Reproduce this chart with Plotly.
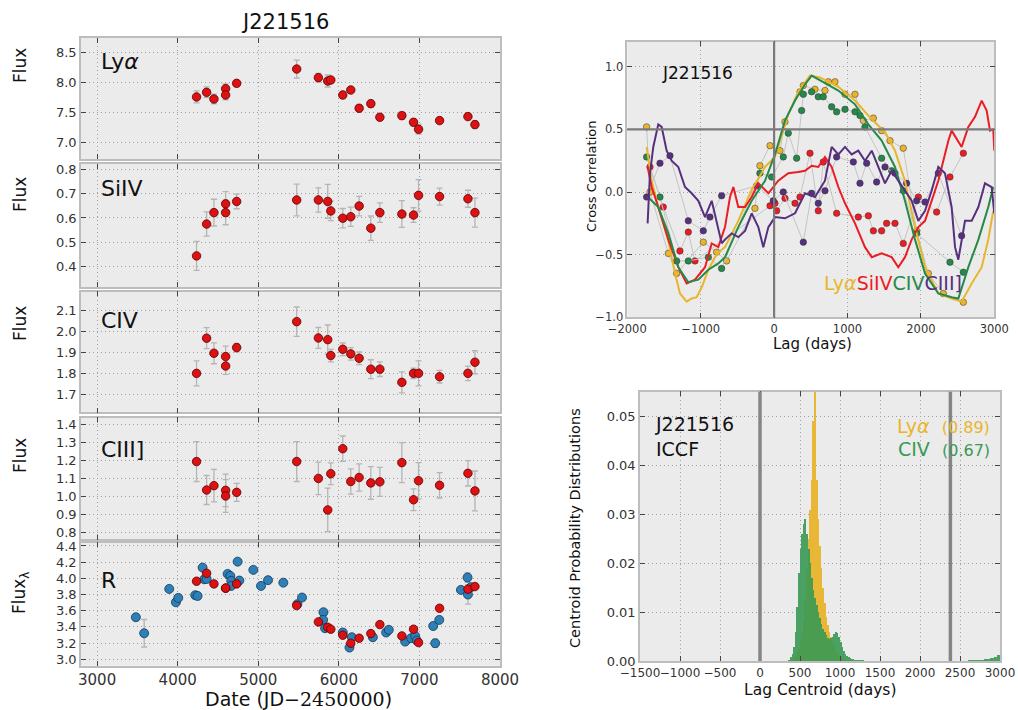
import plotly.graph_objects as go

# ---------------- Light curves (left) ----------------
spec_dates = [4234, 4359, 4450, 4595, 4595, 4732, 5477, 5746, 5862, 5900, 6049,
              6148, 6252, 6397, 6509, 6782, 6927, 6989, 7250, 7602, 7689]
lya_flux = [7.756, 7.833, 7.722, 7.894, 7.789, 7.983, 8.222, 8.078, 8.022, 8.039, 7.789,
            7.872, 7.567, 7.644, 7.417, 7.444, 7.333, 7.217, 7.361, 7.428, 7.294]
lya_err = [0.10, 0.09, 0.08, 0.08, 0.08, 0.05, 0.15, 0.07, 0.10, 0.05, 0.06,
           0.04, 0.06, 0.06, 0.05, 0.06, 0.06, 0.08, 0.04, 0.05, 0.06]
siiv_flux = [0.444, 0.575, 0.622, 0.658, 0.622, 0.668, 0.674, 0.674, 0.668, 0.629, 0.599,
             0.605, 0.649, 0.558, 0.622, 0.616, 0.612, 0.693, 0.688, 0.679, 0.622]
siiv_err = [0.06, 0.05, 0.055, 0.05, 0.05, 0.03, 0.065, 0.05, 0.07, 0.04, 0.04,
            0.04, 0.04, 0.05, 0.04, 0.055, 0.03, 0.065, 0.035, 0.035, 0.06]
civ_flux = [1.800, 1.968, 1.896, 1.880, 1.835, 1.923, 2.047, 1.969, 1.961, 1.885, 1.915,
            1.893, 1.872, 1.820, 1.820, 1.757, 1.800, 1.800, 1.784, 1.800, 1.853]
civ_err = [0.06, 0.05, 0.05, 0.05, 0.04, 0.02, 0.07, 0.05, 0.07, 0.03, 0.03,
           0.03, 0.03, 0.045, 0.035, 0.05, 0.025, 0.06, 0.03, 0.035, 0.055]
ciii_flux = [1.193, 1.036, 1.060, 1.034, 1.003, 1.023, 1.193, 1.100, 0.926, 1.126, 1.264,
             1.083, 1.105, 1.075, 1.081, 1.187, 0.982, 1.087, 1.062, 1.128, 1.031]
ciii_err = [0.11, 0.08, 0.09, 0.09, 0.09, 0.05, 0.11, 0.09, 0.12, 0.06, 0.07,
            0.07, 0.075, 0.09, 0.08, 0.11, 0.06, 0.10, 0.07, 0.07, 0.11]
cont_flux = [3.964, 4.062, 3.931, 3.877, 3.880, 3.931, 3.663, 3.461, 3.395, 3.371, 3.297,
             3.198, 3.260, 3.317, 3.428, 3.288, 3.371, 3.206, 3.630, 3.865, 3.898]

phot_dates = [3481, 3584, 3895, 3978, 4007, 4218, 4247, 4309, 4330, 4359, 4620, 4653, 4665,
              4665, 4744, 4765, 4939, 5034, 5121, 5311, 5485, 5543, 5809, 5805, 5829, 6049,
              6132, 6161, 6422, 6587, 6620, 6823, 6897, 6947, 6968, 7171, 7196, 7246, 7515,
              7597, 7602, 7640]
phot_flux = [3.519, 3.321, 3.869, 3.704, 3.758, 3.791, 3.782, 4.132, 3.988, 3.992, 4.054,
             4.029, 3.968, 3.906, 4.206, 3.972, 4.104, 3.906, 3.977, 3.946, 3.680, 3.762,
             3.581, 3.486, 3.383, 3.330, 3.144, 3.272, 3.272, 3.330, 3.363, 3.218, 3.260,
             3.288, 3.231, 3.410, 3.198, 3.486, 3.857, 4.010, 3.800, 3.890]
phot_err = [0.03, 0.17, 0.03, 0.03, 0.03, 0.02, 0.02, 0.03, 0.03, 0.03, 0.03, 0.03, 0.03,
            0.03, 0.03, 0.03, 0.03, 0.03, 0.03, 0.03, 0.03, 0.03, 0.03, 0.03, 0.03, 0.03,
            0.03, 0.03, 0.03, 0.03, 0.03, 0.03, 0.03, 0.03, 0.03, 0.03, 0.05, 0.03, 0.03,
            0.06, 0.12, 0.03]

date_ticks = [3000, 4000, 5000, 6000, 7000, 8000]

# ---------------- Cross correlation (top right) ----------------
lya_ccf_lag = [-1736, -1668, -1578, -1441, -1350, -1282, -1191, -1123, -1055, -986, -896, -805,
               -714, -669, -488, -305, -200, -124, 12, 103, 193, 330, 466, 488, 625, 875, 1102,
               1330, 1511, 1647, 1783, 1920, 2056, 2237, 2419, 2555, 2692, 2828, 2918, 2986]
lya_ccf = [0.36, 0.09, -0.12, -0.39, -0.65, -0.81, -0.875, -0.85, -0.84, -0.76, -0.62, -0.52,
           -0.46, -0.44, -0.23, 0.02, 0.12, 0.20, 0.28, 0.45, 0.62, 0.80, 0.92, 0.93, 0.915,
           0.84, 0.73, 0.58, 0.48, 0.33, 0.09, -0.28, -0.60, -0.81, -0.85, -0.875, -0.73, -0.60,
           -0.38, -0.15]
civ_ccf_lag = [-1720, -1578, -1441, -1305, -1169, -1032, -896, -760, -669, -488, -305, -124, 12,
               148, 285, 421, 512, 557, 693, 875, 1102, 1284, 1465, 1647, 1783, 1920, 2056,
               2237, 2419, 2510, 2646, 2783, 2918, 2986]
civ_ccf = [-0.04, -0.12, -0.33, -0.60, -0.72, -0.70, -0.62, -0.57, -0.52, -0.28, -0.07, 0.09,
           0.30, 0.57, 0.73, 0.86, 0.93, 0.915, 0.875, 0.81, 0.70, 0.54, 0.41, 0.20, -0.07,
           -0.38, -0.65, -0.81, -0.84, -0.85, -0.60, -0.38, -0.12, 0.04]
siiv_ccf_lag = [-1723, -1668, -1578, -1441, -1305, -1191, -1078, -941, -850, -760, -669, -601,
                -555, -488, -396, -305, -215, -78, 57, 193, 330, 421, 512, 602, 693, 784, 875,
                966, 1102, 1238, 1330, 1465, 1602, 1692, 1783, 1874, 1965, 2056, 2237, 2374,
                2419, 2555, 2646, 2737, 2828, 2896, 2941, 2986, 3000]
siiv_ccf = [0.20, 0.04, -0.12, -0.38, -0.60, -0.73, -0.70, -0.60, -0.41, -0.44, -0.28, -0.04,
            0.04, -0.12, -0.12, -0.04, 0.07, -0.01, 0.09, 0.15, 0.16, 0.17, 0.21, 0.20, 0.28,
            0.20, 0.04, -0.09, -0.25, -0.44, -0.52, -0.49, -0.52, -0.60, -0.52, -0.38, -0.28,
            -0.23, 0.09, 0.41, 0.49, 0.36, 0.52, 0.60, 0.73, 0.65, 0.49, 0.50, 0.33]
ciii_ccf_lag = [-1723, -1691, -1646, -1578, -1532, -1464, -1396, -1305, -1214, -1123, -1032,
                -941, -850, -760, -714, -669, -578, -488, -396, -305, -215, -147, -78, 12, 148,
                285, 421, 557, 693, 784, 875, 966, 1057, 1147, 1238, 1330, 1420, 1511, 1602,
                1692, 1783, 1874, 1965, 2056, 2146, 2237, 2328, 2419, 2465, 2510, 2601, 2692,
                2783, 2873, 2964, 3000]
ciii_ccf = [-0.25, 0.15, 0.36, 0.54, 0.52, 0.33, 0.25, 0.20, 0.04, -0.01, -0.07, -0.20, -0.07,
            -0.28, -0.41, -0.38, -0.33, -0.36, -0.31, -0.17, -0.28, -0.44, -0.28, -0.20, -0.21,
            -0.17, -0.01, -0.04, 0.09, 0.36, 0.30, 0.36, 0.30, 0.33, 0.25, 0.33, 0.20, 0.07,
            0.17, 0.09, 0.01, -0.07, -0.23, -0.15, 0.01, 0.20, 0.15, -0.12, -0.44, -0.54, -0.23,
            -0.23, -0.12, 0.07, 0.04, -0.17]

lya_dcf_lag = [-1737, -1691, -1441, -1328, -965, -783, -647, -261, -193, -56, 80, 148, 353,
               398, 557, 693, 739, 829, 966, 1102, 1216, 1352, 1465, 1579, 1760, 1942, 2101,
               2305, 2578]
lya_dcf = [0.52, 0.00, -0.49, -0.65, -0.40, -0.48, -0.55, -0.13, 0.21, 0.37, 0.33, 0.56, 0.80,
           0.85, 0.82, 0.81, 0.88, 0.88, 0.78, 0.78, 0.57, 0.59, 0.49, 0.41, 0.35, -0.31, -0.65,
           -0.81, -0.88]
civ_dcf_lag = [-1737, -1555, -1328, -1169, -896, -715, -193, -34, 125, 193, 307, 375, 398, 511,
               602, 670, 784, 852, 966, 1102, 1170, 1238, 1465, 1602, 1760, 1942, 2396, 2578]
civ_dcf = [0.28, -0.04, -0.55, -0.55, -0.52, -0.61, 0.15, 0.12, 0.28, 0.47, 0.27, 0.65, 0.78,
           0.80, 0.76, 0.76, 0.68, 0.64, 0.66, 0.64, 0.61, 0.52, 0.27, 0.17, 0.01, -0.33, -0.56,
           -0.64]
siiv_dcf_lag = [-1691, -1510, -1283, -1169, -1078, -56, 12, 35, 148, 285, 353, 489, 602, 670,
                852, 1147, 1284, 1352, 1465, 1533, 1647, 1760, 1965, 2214, 2396, 2578]
siiv_dcf = [0.20, -0.12, -0.47, -0.32, -0.55, -0.11, -0.09, -0.15, -0.05, -0.09, -0.04, 0.31,
            -0.15, 0.24, -0.17, -0.20, -0.19, -0.31, -0.31, -0.25, -0.25, -0.41, -0.04, -0.16,
            0.12, 0.31]
ciii_dcf_lag = [-1737, -1555, -1419, -1169, -965, -874, -715, -238, -11, 125, 398, 511, 602,
                693, 852, 1079, 1170, 1261, 1397, 1511, 1647, 1805, 1942, 2056, 2237, 2555]
ciii_dcf = [-0.04, 0.23, 0.29, -0.23, -0.31, -0.20, -0.03, 0.05, -0.07, 0.00, -0.40, -0.01,
            -0.09, 0.01, 0.28, 0.24, 0.07, 0.23, 0.08, 0.20, 0.15, 0.07, -0.07, -0.08, 0.15,
            -0.35]

# ---------------- Centroid distributions (bottom right) ----------------
cent_bins = [370, 390, 410, 430, 450, 470, 490, 510, 530, 550, 570, 590, 610, 630, 650, 670,
             690, 710, 730, 750, 770, 790, 810, 830, 850, 870, 890, 910, 930, 950, 970, 990,
             1010, 1030, 1050, 1070, 1090, 1110, 1130, 1150, 1170, 1190, 1210, 1230, 1250,
             1270, 1290]
lya_cent = [0.0, 0.0002, 0.0005, 0.0008, 0.0012, 0.0018, 0.0026, 0.0038, 0.0055, 0.0085,
            0.0125, 0.019, 0.025, 0.031, 0.037, 0.049, 0.060, 0.037, 0.029, 0.0235, 0.019,
            0.015, 0.012, 0.009, 0.0075, 0.006, 0.005, 0.004, 0.003, 0.0022, 0.0016, 0.0012,
            0.0009, 0.0006, 0.0004, 0.0003, 0.0002, 0.00015, 0.0001, 0.0, 0.0, 0.0, 0.0, 0.0,
            0.0, 0.0, 0.0]
civ_cent = [0.0003, 0.0008, 0.0015, 0.003, 0.006, 0.011, 0.018, 0.023, 0.026, 0.028, 0.029,
            0.026, 0.023, 0.020, 0.017, 0.0145, 0.013, 0.0115, 0.010, 0.0088, 0.0077, 0.0066,
            0.006, 0.0053, 0.0048, 0.0046, 0.0047, 0.005, 0.0055, 0.006, 0.0058, 0.005, 0.004,
            0.003, 0.0022, 0.0015, 0.001, 0.0008, 0.0006, 0.0005, 0.0004, 0.0003, 0.0003,
            0.0002, 0.0002, 0.0001, 0.0001]
tail_bins = [2620, 2660, 2700, 2740, 2780, 2820, 2860, 2900, 2940, 2980]
civ_tail = [0.0001, 0.0002, 0.0002, 0.0003, 0.0003, 0.0004, 0.0005, 0.0007, 0.0009, 0.0013]

# ---------------- Styling ----------------
FONT = "DejaVu Sans"
C_LYA = "#e8b52c"
C_SIIV = "#ec1c24"
C_CIV = "#25894a"
C_CIII = "#56307f"
C_RED = "#dd1111"
C_BLUE = "#2e7fb8"
C_HGREEN = "#3a9a55"
BG = "#ebebeb"
FRAME = "#bdbdbd"
GRID = "#a0a0a0"
W, H = 1018, 710


def px_x(p):
    return p / W


def px_y(p):
    return 1 - p / H


fig = go.Figure()

panels = [
    (lya_flux, lya_err, [6.72, 8.74], [7.0, 7.5, 8.0, 8.5], 38, 159),
    (siiv_flux, siiv_err, [0.316, 0.822], [0.4, 0.5, 0.6, 0.7, 0.8], 164, 287),
    (civ_flux, civ_err, [1.614, 2.19], [1.7, 1.8, 1.9, 2.0, 2.1], 291.7, 412.3),
    (ciii_flux, ciii_err, [0.764, 1.435], [0.8, 0.9, 1.0, 1.1, 1.2, 1.3, 1.4], 417.7, 539.3),
]

layout_axes = {}


def axis_common(**kw):
    d = dict(showgrid=True, gridcolor=GRID, griddash="1px,3px", gridwidth=1,
             showline=True, linecolor=FRAME, linewidth=1.5, mirror="ticks",
             ticks="inside", ticklen=5, tickcolor="#444", tickwidth=1,
             zeroline=False, automargin=False,
             tickfont=dict(family=FONT, size=13, color="#333"))
    d.update(kw)
    return d


red_marker = dict(color=C_RED, size=8.5, line=dict(color="#5a0000", width=0.8))
blue_marker = dict(color=C_BLUE, size=9, line=dict(color="#123a55", width=0.8))
err_style = dict(type="data", color="#b5b5b5", thickness=1.3, width=3)

for i, (vals, errs, yr, yt, top, bot) in enumerate(panels, start=1):
    fig.add_trace(go.Scatter(
        x=spec_dates, y=vals, mode="markers", marker=red_marker,
        error_y=dict(array=errs, **err_style),
        xaxis=f"x{i}", yaxis=f"y{i}", showlegend=False))
    layout_axes[f"xaxis{i}"] = axis_common(domain=[px_x(81), px_x(500)], range=[2800, 8000],
                                           tickvals=date_ticks, showticklabels=False,
                                           anchor=f"y{i}")
    layout_axes[f"yaxis{i}"] = axis_common(domain=[px_y(bot), px_y(top)], range=yr,
                                           tickvals=yt, ticktext=["%.1f" % v for v in yt],
                                           anchor=f"x{i}")

# R panel
fig.add_trace(go.Scatter(
    x=phot_dates, y=phot_flux, mode="markers", marker=blue_marker,
    error_y=dict(array=phot_err, **err_style),
    xaxis="x5", yaxis="y5", showlegend=False))
fig.add_trace(go.Scatter(
    x=spec_dates, y=cont_flux, mode="markers", marker=red_marker,
    xaxis="x5", yaxis="y5", showlegend=False))
r_ticks = [3.0, 3.2, 3.4, 3.6, 3.8, 4.0, 4.2, 4.4]
layout_axes["xaxis5"] = axis_common(domain=[px_x(81), px_x(500)], range=[2800, 8000],
                                    tickvals=date_ticks, anchor="y5",
                                    tickfont=dict(family=FONT, size=15, color="#333"))
layout_axes["yaxis5"] = axis_common(domain=[px_y(665.7), px_y(542.7)], range=[2.92, 4.44],
                                    tickvals=r_ticks, ticktext=["%.1f" % v for v in r_ticks],
                                    anchor="x5")

# top right: cross correlation
for lags, vals, col in [(lya_dcf_lag, lya_dcf, C_LYA), (siiv_dcf_lag, siiv_dcf, C_SIIV),
                        (civ_dcf_lag, civ_dcf, C_CIV), (ciii_dcf_lag, ciii_dcf, C_CIII)]:
    fig.add_trace(go.Scatter(
        x=lags, y=vals, mode="lines+markers",
        line=dict(color="#c4c4c4", width=1),
        marker=dict(color=col, size=6.5, line=dict(color="#333", width=0.5)),
        xaxis="x6", yaxis="y6", showlegend=False))
for lags, vals, col in [(lya_ccf_lag, lya_ccf, C_LYA), (siiv_ccf_lag, siiv_ccf, C_SIIV),
                        (civ_ccf_lag, civ_ccf, C_CIV), (ciii_ccf_lag, ciii_ccf, C_CIII)]:
    fig.add_trace(go.Scatter(
        x=lags, y=vals, mode="lines", line=dict(color=col, width=2),
        xaxis="x6", yaxis="y6", showlegend=False))


def signed(v, fmt):
    return ("\u2212" + fmt % -v) if v < 0 else fmt % v


lag_ticks = [-2000, -1000, 0, 1000, 2000, 3000]
cc_ticks = [-1.0, -0.5, 0.0, 0.5, 1.0]
small = dict(family=FONT, size=11.5, color="#333")
layout_axes["xaxis6"] = axis_common(domain=[px_x(627.3), px_x(994.3)], range=[-2000, 3000],
                                    tickvals=lag_ticks, ticktext=[signed(v, "%d") for v in lag_ticks],
                                    anchor="y6", tickfont=small, tickangle=0)
layout_axes["yaxis6"] = axis_common(domain=[px_y(317.3), px_y(41.7)], range=[-1.0, 1.2],
                                    tickvals=cc_ticks, ticktext=[signed(v, "%.1f") for v in cc_ticks],
                                    anchor="x6", tickfont=small)

# bottom right: centroid distributions
fig.add_trace(go.Bar(x=cent_bins, y=lya_cent, width=20, marker=dict(color=C_LYA, line=dict(width=0)),
                     opacity=0.95, xaxis="x7", yaxis="y7", showlegend=False))
fig.add_trace(go.Bar(x=cent_bins, y=civ_cent, width=20, marker=dict(color=C_HGREEN, line=dict(width=0)),
                     opacity=0.9, xaxis="x7", yaxis="y7", showlegend=False))
fig.add_trace(go.Bar(x=tail_bins, y=civ_tail, width=40, marker=dict(color=C_HGREEN, line=dict(width=0)),
                     opacity=0.9, xaxis="x7", yaxis="y7", showlegend=False))
cent_ticks = [-1500, -1000, -500, 0, 500, 1000, 1500, 2000, 2500, 3000]
prob_ticks = [0.0, 0.01, 0.02, 0.03, 0.04, 0.05]
layout_axes["xaxis7"] = axis_common(domain=[px_x(640), px_x(1000)], range=[-1500, 3000],
                                    tickvals=cent_ticks, ticktext=[signed(v, "%d") for v in cent_ticks],
                                    anchor="y7", tickangle=0,
                                    tickfont=dict(family=FONT, size=12, color="#333"))
layout_axes["yaxis7"] = axis_common(domain=[px_y(661), px_y(391.7)], range=[0, 0.055],
                                    tickvals=prob_ticks, ticktext=["%.2f" % v for v in prob_ticks],
                                    anchor="x7", tickfont=dict(family=FONT, size=13, color="#333"))

shapes = [
    dict(type="line", xref="x6", yref="y6 domain", x0=0, x1=0, y0=0, y1=1,
         line=dict(color="#7a7a7a", width=2.2)),
    dict(type="line", xref="x6 domain", yref="y6", x0=0, x1=1, y0=0.5, y1=0.5,
         line=dict(color="#7a7a7a", width=2.2)),
    dict(type="line", xref="x7", yref="y7 domain", x0=0, x1=0, y0=0, y1=1,
         line=dict(color="#858585", width=3.5)),
    dict(type="line", xref="x7", yref="y7 domain", x0=2380, x1=2380, y0=0, y1=1,
         line=dict(color="#858585", width=3.5)),
]

ann = []


def add_text(text, x, y, size, color="#111", angle=0, xanchor="center", yanchor="middle", align="center"):
    ann.append(dict(text=text, x=px_x(x), y=px_y(y), xref="paper", yref="paper",
                    showarrow=False, textangle=angle, xanchor=xanchor, yanchor=yanchor,
                    align=align, font=dict(family=FONT, size=size, color=color)))


add_text("J221516", 285, 22, 21)
for lab, yc in [("Flux", 66), ("Flux", 195), ("Flux", 324), ("Flux", 456), ("Flux<sub>λ</sub>", 593)]:
    add_text(lab, 20, yc, 17, angle=-90)
for lab, yc in [("Ly<i>α</i>", 61), ("SiIV", 189), ("CIV", 320), ("CIII]", 449), ("R", 580)]:
    add_text(lab, 99, yc, 22, xanchor="left")
add_text("Date (JD\u2212<span style='font-family:DejaVu Serif'>2450000</span>)", 298, 699, 19)

add_text("Cross Correlation", 591, 177, 13, angle=-90)
add_text("Lag (days)", 812, 344, 15)
add_text("J221516", 660, 73, 17, xanchor="left")
add_text("<span style='color:%s'>Ly<i>α</i></span><span style='color:%s'>SiIV</span>"
         "<span style='color:%s'>CIV</span><span style='color:%s'>CIII]</span>"
         % (C_LYA, C_SIIV, C_CIV, C_CIII), 822, 283, 19, xanchor="left")

add_text("Centroid Probability Distributions", 575, 528, 14.5, angle=-90)
add_text("Lag Centroid (days)", 820, 690, 15.5)
add_text("J221516<br>ICCF", 653, 437, 19, xanchor="left", align="left")
add_text("Ly<i>α</i>  <span style='font-size:16px'>(0.89)</span>", 992, 426, 19, color=C_LYA, xanchor="right")
add_text("CIV  <span style='font-size:16px'>(0.67)</span>", 992, 449, 19, color=C_HGREEN, xanchor="right")

fig.update_layout(
    width=W, height=H, margin=dict(l=0, r=0, t=0, b=0, autoexpand=False),
    paper_bgcolor="white", plot_bgcolor=BG,
    barmode="overlay", bargap=0,
    shapes=shapes, annotations=ann,
    font=dict(family=FONT),
    **layout_axes,
)

fig.write_html("out.html", config={"displayModeBar": False},
               post_script="document.body.style.margin='0';document.body.style.overflow='hidden';")
